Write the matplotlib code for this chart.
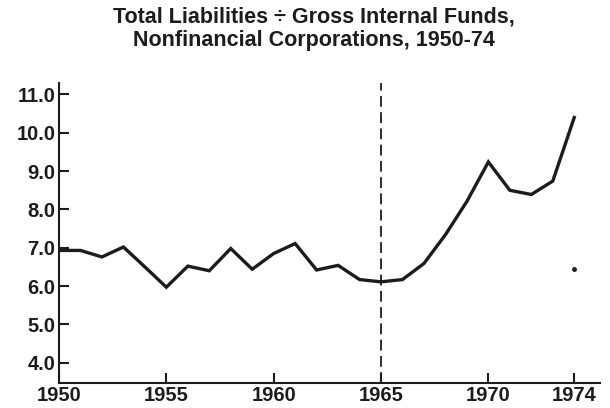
import matplotlib.pyplot as plt

plt.rcParams['font.family'] = ['Liberation Sans', 'DejaVu Sans']

# Values
years = list(range(1950, 1975))
ratio = [6.93, 6.93, 6.76, 7.02, 6.5, 5.97, 6.52, 6.4, 6.98, 6.44, 6.85, 7.11,
         6.42, 6.54, 6.17, 6.11, 6.17, 6.59, 7.34, 8.21, 9.24, 8.5, 8.39, 8.74, 10.4]
stray_year = [1974]  # lone dot below the last point
stray_value = [6.45]
x_ticks = [1950, 1955, 1960, 1965, 1970, 1974]
y_ticks = [4.0, 5.0, 6.0, 7.0, 8.0, 9.0, 10.0, 11.0]
split_year = 1965

ink = '#1c1c1c'

fig = plt.figure(figsize=(6.1, 4.08), dpi=100)
ax = fig.add_axes([59 / 610, 25 / 408, 541 / 610, 300 / 408])

ax.plot(years, ratio, color=ink, lw=2.4, solid_joinstyle='miter')
ax.plot(stray_year, stray_value, 'o', color=ink, ms=2.5)
ax.axvline(split_year, color=ink, lw=1.3, dashes=(6, 3))

ax.set_xlim(1950, 1975.2)
ax.set_ylim(3.47, 11.3)

ax.spines['top'].set_visible(False)
ax.spines['right'].set_visible(False)
for s in ('left', 'bottom'):
    ax.spines[s].set_linewidth(1.5)
    ax.spines[s].set_color(ink)

ax.set_xticks(x_ticks)
ax.set_xticklabels([str(y) for y in x_ticks])
ax.set_yticks(y_ticks)
ax.set_yticklabels(['%.1f' % v for v in y_ticks])
ax.tick_params(direction='in', length=7, width=1.5, color=ink,
               labelsize=14.5, labelcolor=ink)
ax.tick_params(axis='y', pad=2.5)
ax.tick_params(axis='x', pad=2.5)
for lab in ax.get_xticklabels() + ax.get_yticklabels():
    lab.set_fontweight('bold')

fig.text(0.514, 0.985, 'Total Liabilities \u00f7 Gross Internal Funds,\nNonfinancial Corporations, 1950-74',
         ha='center', va='top', fontsize=15.5, fontweight='bold', color=ink,
         linespacing=1.15)

fig.savefig('out.png', dpi=100, facecolor='white')
